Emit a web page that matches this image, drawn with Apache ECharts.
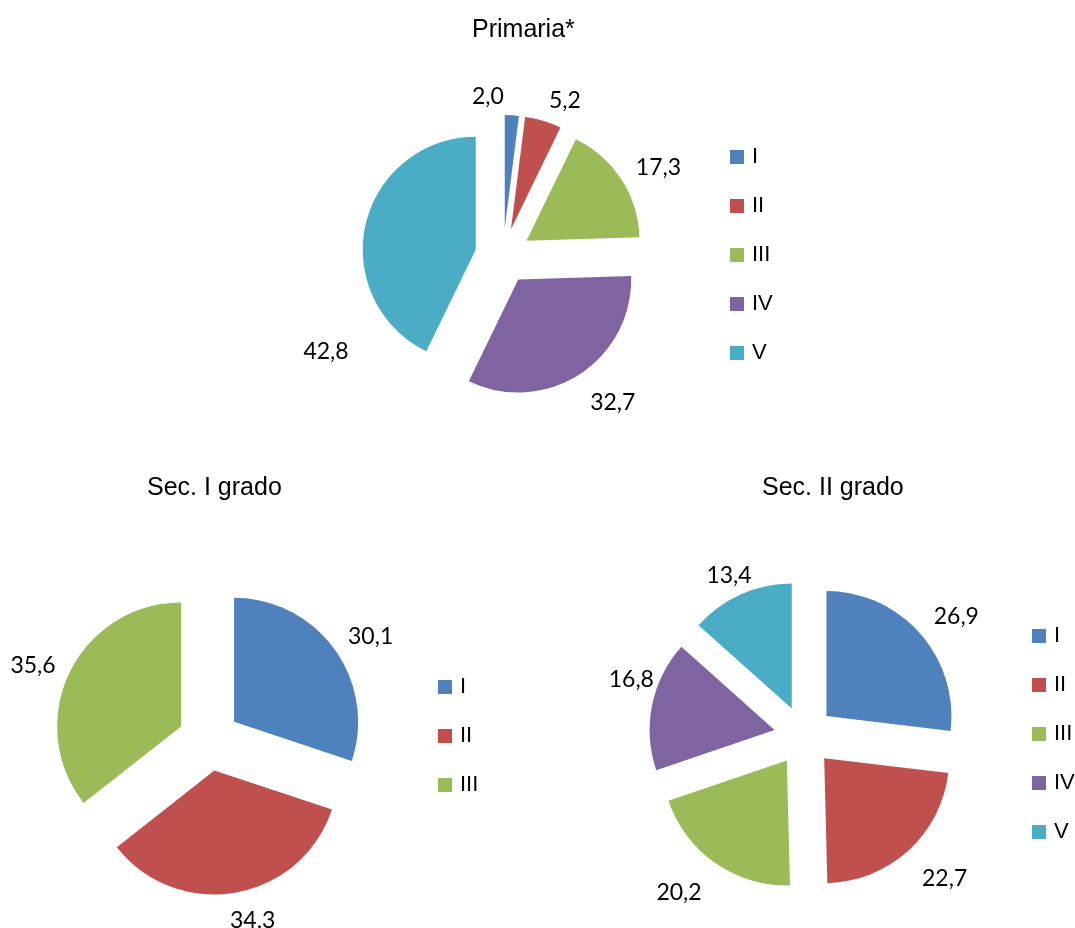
<!DOCTYPE html>
<html>
<head>
    <meta charset="UTF-8">
    <title>Primaria / Sec. I grado / Sec. II grado</title>
    <script src="https://cdn.jsdelivr.net/npm/echarts@6/dist/echarts.min.js"></script>
    <style>
        body { margin: 0; background: #fff; }
    </style>
</head>
<body>
    <div id="main" style="width:1075px; height:928px;"></div>

    <script>
        // dati
        var levels5 = ['I', 'II', 'III', 'IV', 'V'];
        var levels3 = ['I', 'II', 'III'];
        var primaria = [2.0, 5.2, 17.3, 32.7, 42.8];
        var secPrimo = [30.1, 34.3, 35.6];
        var secSecondo = [26.9, 22.7, 20.2, 16.8, 13.4];
        var colors = ['#4F81BD', '#C0504D', '#9BBB59', '#8064A2', '#4BACC6'];

        // spostamenti etichette (come il "best fit" di Excel)
        var primariaShift = [[-26, 11], [12, 8], [3, 4], [11, 3], [0, 134]];
        var secPrimoShift = [[3, 5], [10, -1], [0, 6]];
        var secSecondoShift = [[6, 3], [9, 6], [-13, 5], [19, -20], [5, 8]];

        var LABEL_GAP = 18;

        function toData(names, values) {
            return names.map(function (n, i) {
                return { name: n, value: values[i], selected: true };
            });
        }

        // etichetta fuori dalla fetta, lungo la bisettrice
        // (lo spostamento della fetta selezionata viene aggiunto da ECharts)
        function placer(center, radius, values, shift) {
            var total = values.reduce(function (a, b) { return a + b; }, 0);
            return function (p) {
                var i = p.dataIndex;
                var before = 0;
                for (var k = 0; k < i; k++) before += values[k];
                var mid = (before + values[i] / 2) / total * Math.PI * 2;
                var sx = Math.sin(mid), sy = -Math.cos(mid);
                var r = p.labelRect;
                var d = radius + LABEL_GAP;
                var X = center[0] + sx * (d + r.width / 2) + shift[i][0];
                var Y = center[1] + sy * (d + r.height / 2) + shift[i][1];
                return {
                    dx: X - (r.x + r.width / 2),
                    dy: Y - (r.y + r.height / 2),
                    hideOverlap: false
                };
            };
        }

        function pie(center, radius, offset, names, values, shift) {
            return {
                type: 'pie',
                center: center,
                radius: radius,
                startAngle: 90,
                selectedMode: 'multiple',
                selectedOffset: offset,
                avoidLabelOverlap: false,
                silent: true,
                data: toData(names, values),
                label: {
                    show: true,
                    position: 'outside',
                    color: '#000',
                    fontFamily: 'Lato',
                    fontSize: 23,
                    formatter: function (p) { return p.value.toFixed(1).replace('.', ','); }
                },
                labelLine: { show: false, length: 10, length2: 0 },
                labelLayout: placer(center, radius, values, shift),
                emphasis: { disabled: true }
            };
        }

        function legend(left, top, names) {
            return {
                orient: 'vertical',
                left: left,
                top: top,
                padding: 0,
                icon: 'rect',
                itemWidth: 14,
                itemHeight: 14,
                itemGap: 27,
                selectedMode: false,
                data: names,
                textStyle: { fontFamily: 'Liberation Sans', fontSize: 22, color: '#000', padding: [0, 0, 0, 3] }
            };
        }

        var titleStyle = { fontFamily: 'Liberation Sans', fontSize: 25, fontWeight: 'normal', color: '#000' };

        var chart = echarts.init(document.getElementById('main'), null, { renderer: 'canvas' });
        chart.setOption({
            color: colors,
            animation: false,
            title: [
                { text: 'Primaria*', left: 472, top: 18, padding: 0, textStyle: titleStyle },
                { text: 'Sec. I grado', left: 147, top: 476, padding: 0, textStyle: titleStyle },
                { text: 'Sec. II grado', left: 762, top: 476, padding: 0, textStyle: titleStyle }
            ],
            legend: [
                legend(730, 146, levels5),
                legend(438, 676, levels3),
                legend(1032, 625, levels5)
            ],
            series: [
                pie([503, 256], 113, 28, levels5, primaria, primariaShift),
                pie([209, 740], 124, 31, levels3, secPrimo, secPrimoShift),
                pie([804, 736], 125, 30, levels5, secSecondo, secSecondoShift)
            ]
        });
    </script>
</body>
</html>
